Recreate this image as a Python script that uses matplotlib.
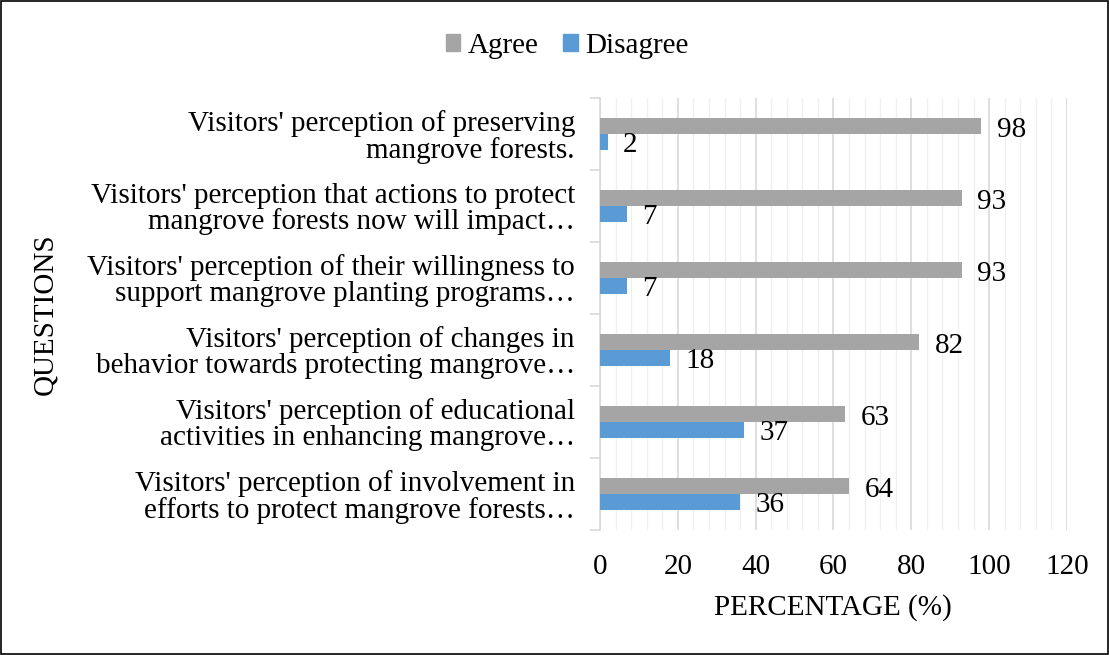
import numpy as np
import matplotlib.pyplot as plt
from matplotlib.patches import Patch, Rectangle

plt.rcParams['font.family'] = ['Liberation Serif', 'DejaVu Serif']
FS = 21

questions = [
    "Visitors' perception of preserving\nmangrove forests.",
    "Visitors' perception that actions to protect\nmangrove forests now will impact\u2026",
    "Visitors' perception of their willingness to\nsupport mangrove planting programs\u2026",
    "Visitors' perception of changes in\nbehavior towards protecting mangrove\u2026",
    "Visitors' perception of educational\nactivities in enhancing mangrove\u2026",
    "Visitors' perception of involvement in\nefforts to protect mangrove forests\u2026",
]
agree = [98, 93, 93, 82, 63, 64]
disagree = [2, 7, 7, 18, 37, 36]

AGREE_C = '#A5A5A5'
DIS_C = '#5B9BD5'

fig = plt.figure(figsize=(11.09, 6.55), dpi=100)
ax = fig.add_axes([600 / 1109, 1 - 530 / 655, 467 / 1109, 432 / 655])

n = len(questions)
pos = np.arange(n)[::-1]  # first question on top
h = 0.22
ax.barh(pos + h / 2, agree, height=h, color=AGREE_C, zorder=3)
ax.barh(pos - h / 2, disagree, height=h, color=DIS_C, zorder=3)

for y, a, d in zip(pos, agree, disagree):
    ax.annotate(str(a), (a, y + h / 2), xytext=(11, -2.5), textcoords='offset points',
                va='center', ha='left', fontsize=FS)
    ax.annotate(str(d), (d, y - h / 2), xytext=(11, -2), textcoords='offset points',
                va='center', ha='left', fontsize=FS)

ax.set_xlim(0, 120)
ax.set_ylim(-0.5, n - 0.5)
ax.set_xticks(np.arange(0, 121, 20))
ax.set_xticks(np.arange(0, 121, 4), minor=True)
ax.tick_params(axis='x', which='both', length=0, labelsize=FS, pad=17)
ax.grid(axis='x', which='major', color='#D9D9D9', lw=1.2, zorder=0)
ax.grid(axis='x', which='minor', color='#F0F0F0', lw=1.0, zorder=0)

ax.set_yticks(np.arange(-0.5, n, 1.0))
ax.set_yticklabels([])
ax.set_yticks(pos, minor=True)
ax.set_yticklabels(questions, minor=True, fontsize=FS, ha='right',
                   multialignment='right', linespacing=0.98)
ax.tick_params(axis='y', which='major', length=7, color='#D9D9D9', width=1.2)
ax.tick_params(axis='y', which='minor', length=0, pad=18)

for s in ['top', 'right', 'bottom']:
    ax.spines[s].set_visible(False)
ax.spines['left'].set_color('#D9D9D9')
ax.spines['left'].set_linewidth(1.2)

fig.text(45 / 1109, 1 - 314 / 655, 'QUESTIONS', rotation=90, ha='center', va='center', fontsize=FS)
fig.text(833 / 1109, 1 - 608 / 655, 'PERCENTAGE (%)', ha='center', va='center', fontsize=FS)

handles = [Patch(color=AGREE_C, label='Agree'), Patch(color=DIS_C, label='Disagree')]
fig.legend(handles=handles, loc='center', bbox_to_anchor=(567 / 1109, 1 - 46 / 655), ncol=2,
           frameon=False, fontsize=FS, handlelength=0.5, handleheight=0.5,
           handletextpad=0.25, columnspacing=0.85)

fig.patches.append(Rectangle((0.001, 0.001), 0.998, 0.998, transform=fig.transFigure,
                             fill=False, edgecolor='black', lw=1.2))

fig.savefig('out.png', dpi=100)
